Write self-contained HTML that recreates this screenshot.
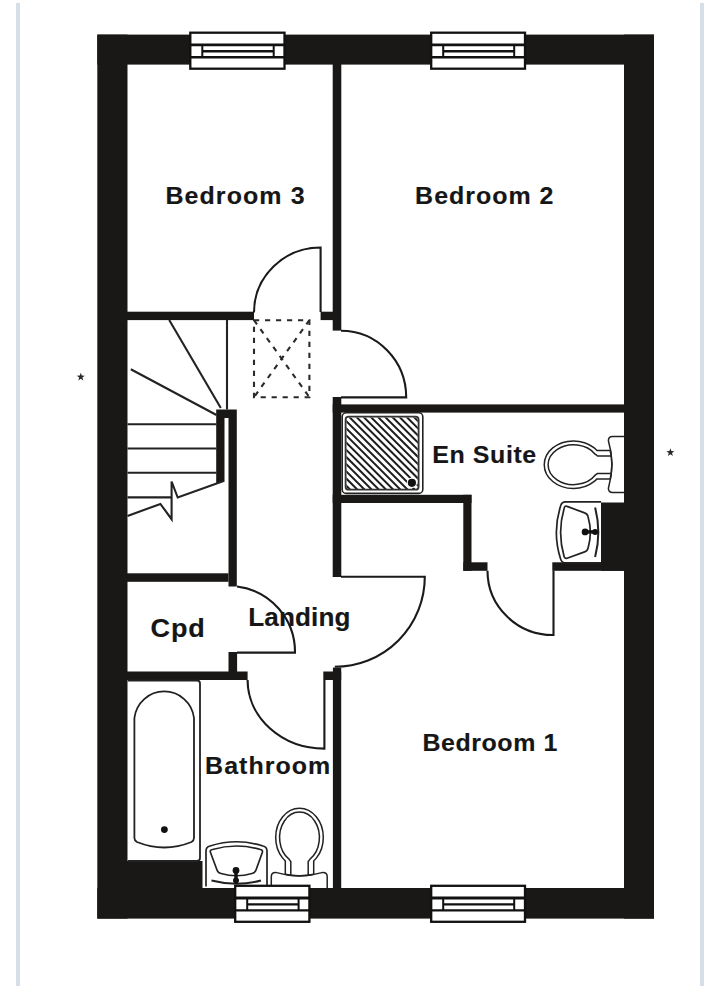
<!DOCTYPE html>
<html><head><meta charset="utf-8">
<style>
html,body{margin:0;padding:0;background:#fff;width:720px;height:986px;overflow:hidden}
svg{display:block}
text{font-family:"Liberation Sans",sans-serif;font-weight:bold;fill:#161616}
</style></head>
<body>
<svg width="720" height="986" viewBox="0 0 720 986">
<defs>
<clipPath id="trayclip"><rect x="346.4" y="417.5" width="71.4" height="71.4" rx="2.5"/></clipPath>
<g id="basin" fill="none" stroke="#222" stroke-width="1.7">
  <path d="M206 886.5 V851 Q206 847 210 846 Q236.5 837.5 263 846 Q267 847 267 851 V886.5"/>
  <path d="M210.5 852.5 Q209.5 850 212.5 849.5 Q236.5 842.5 260.5 849.5 Q263 850 262.3 852.5 L256 870 Q255 873 252 873.5 Q236.5 878 221 873.5 Q218 873 217 870 Z"/>
  <path d="M211.5 880.5 Q236.5 887 261 880.5" stroke-width="2"/>
  <circle cx="236" cy="870.5" r="3.4" fill="#111" stroke="none"/>
  <circle cx="236" cy="880.5" r="3" fill="#111" stroke="none"/>
  <rect x="234.3" y="870" width="3.4" height="11" fill="#111" stroke="none"/>
</g>
<g id="toilet" fill="none" stroke="#222" stroke-width="1.5">
  <path d="M271.3 888 V876.5 Q271.3 872.4 275.5 872.4 Q299 879.5 323 872.4 Q327.2 872.4 327.2 876.5 V888" fill="#fff"/>
  <path d="M285.3 875 V861 Q283.8 859.5 282.5 857.9 A23.8 29.2 0 1 1 316.5 857.9 Q315.2 859.5 313.7 861 V875"/>
  <path d="M290.8 875 V861.5 Q289.8 860.2 289 859.1 A19.9 25.4 0 1 1 310 859.1 Q309.2 860.2 308.2 861.5 V875"/>
  <path d="M285.3 874.2 Q299.5 877.5 313.7 874.2"/>
</g>

</defs>

<!-- page side rules -->
<rect x="16" y="3" width="4" height="983" fill="#d6dee8"/>
<rect x="700" y="3" width="4" height="983" fill="#d6dee8"/>

<!-- outer walls -->
<g fill="#1a1816">
  <rect x="97.3" y="34.6" width="556.7" height="30"/>
  <rect x="97.3" y="34.6" width="30.2" height="884"/>
  <rect x="624" y="34.6" width="30" height="884"/>
  <rect x="97.3" y="888" width="556.7" height="30.6"/>
  <!-- interior -->
  <rect x="332.7" y="64" width="8.6" height="266.6"/>
  <rect x="127" y="311.7" width="127" height="8.4"/>
  <rect x="320.6" y="311.7" width="13" height="8.4"/>
  <rect x="332.7" y="397" width="8.6" height="180"/>
  <rect x="332.7" y="404.4" width="291.5" height="8.2"/>
  <rect x="332.7" y="494.8" width="138.8" height="8.2"/>
  <rect x="463.3" y="494.8" width="8.2" height="76"/>
  <rect x="463.3" y="562.3" width="24.2" height="8.5"/>
  <rect x="552.3" y="562.3" width="72" height="8.5"/>
  <rect x="601" y="502.5" width="23.5" height="68.3"/>
  <!-- stair newel -->
  <path d="M216.2 409.5 H236.8 V586.5 H228.5 V418 H224.5 V480.7 L216.2 483.8 Z"/>
  <rect x="127" y="573.3" width="101.5" height="8.5"/>
  <rect x="228.5" y="652" width="8.6" height="20"/>
  <rect x="127" y="671.5" width="120.6" height="8.5"/>
  <rect x="323.3" y="671.5" width="17.9" height="8.5"/>
  <rect x="332.9" y="667.6" width="8.3" height="221"/>
  <rect x="127" y="861" width="75.5" height="27.5"/>
</g>

<!-- doors -->
<g fill="none" stroke="#1a1a1a" stroke-width="2.1">
  <!-- bedroom 3 -->
  <path d="M254 312.5 A66.6 65 0 0 1 320.6 247.5 V312"/>
  <!-- bedroom 2 -->
  <path d="M341 330.8 A65.2 66.6 0 0 1 406.2 397.4 H341"/>
  <!-- bedroom 1 -->
  <path d="M341 576.8 H424.8 A90 90 0 0 1 334.8 666.8"/>
  <!-- cpd -->
  <path d="M237 586.5 A66 66 0 0 1 295 652.6 H237"/>
  <!-- bathroom -->
  <path d="M247.6 680 A76.8 68.6 0 0 0 324.4 748.6 V680"/>
  <!-- en suite -->
  <path d="M487.5 570.8 A65.5 64.2 0 0 0 553.5 635 V570.8"/>
</g>

<!-- loft hatch -->
<g fill="none" stroke="#2a2a2a" stroke-width="2.1" stroke-dasharray="5.2 5.8">
  <rect x="254" y="320.2" width="55.4" height="77"/>
  <line x1="254" y1="320.2" x2="309.4" y2="397.2"/>
  <line x1="309.4" y1="320.2" x2="254" y2="397.2"/>
</g>

<!-- stairs -->
<g fill="none" stroke="#222" stroke-width="2.1">
  <line x1="169.2" y1="320" x2="220.8" y2="408"/>
  <line x1="130.8" y1="369.2" x2="216.5" y2="415"/>
  <line x1="227" y1="320" x2="227" y2="409.5"/>
  <line x1="127.5" y1="424.2" x2="216.5" y2="424.2"/>
  <line x1="127.5" y1="448.5" x2="216.5" y2="448.5"/>
  <line x1="127.5" y1="472.8" x2="216.5" y2="472.8"/>
  <line x1="127.5" y1="497.4" x2="171.6" y2="497.4"/>
  <path d="M127.5 516 L160.4 503.9 L171.6 519.2 V481.5 L177.7 497.5 L224.3 480.7"/>
</g>

<!-- shower tray -->
<g>
  <rect x="342.2" y="412.8" width="80.6" height="80.6" rx="4" fill="#fff" stroke="#222" stroke-width="1.6"/>
  <g clip-path="url(#trayclip)" stroke="#1e1e1e" stroke-width="2.0">
    <path d="M416.17 405L511.17 500M409.00 405L504.00 500M401.83 405L496.83 500M394.66 405L489.66 500M387.49 405L482.49 500M380.32 405L475.32 500M373.15 405L468.15 500M365.98 405L460.98 500M358.81 405L453.81 500M351.64 405L446.64 500M344.47 405L439.47 500M337.30 405L432.30 500M330.13 405L425.13 500M322.96 405L417.96 500M315.79 405L410.79 500M308.62 405L403.62 500M301.45 405L396.45 500M294.28 405L389.28 500M287.11 405L382.11 500M279.94 405L374.94 500M272.77 405L367.77 500M265.60 405L360.60 500M258.43 405L353.43 500"/>
  </g>
  <rect x="345.6" y="416.7" width="73" height="73" rx="3" fill="none" stroke="#333" stroke-width="1.8"/>
  <circle cx="411.9" cy="482.8" r="5.2" fill="#fff"/>
  <circle cx="411.9" cy="482.8" r="4.1" fill="#111"/>
</g>

<!-- bath -->
<g fill="none" stroke="#222" stroke-width="1.8">
  <path d="M127.8 680.5 H197 Q200 680.5 200 683.5 V858 Q200 861 197 861 H127.8"/>
  <path d="M134.4 838 V718 A30 30 0 0 1 194 718 V838 Q194 840.5 191.5 842 Q164.2 853 137 842 Q134.4 840.5 134.4 838 Z"/>
  <circle cx="164.4" cy="829.6" r="3.4" fill="#111" stroke="none"/>
</g>

<!-- bathroom fixtures -->
<use href="#basin"/>
<use href="#toilet"/>
<!-- en suite fixtures -->
<use href="#basin" transform="matrix(0 1 1 0 -285.4 295.9)"/>
<use href="#toilet" transform="matrix(0 1 1 0 -264 165.2)"/>

<!-- windows -->
<g stroke="#111" fill="none"><rect x="190.3" y="32.7" width="94.2" height="36" fill="#fff" stroke-width="2.3"/><path d="M190.3 44.900000000000006H284.5" stroke-width="2.8"/><path d="M190.3 57.300000000000004H284.5" stroke-width="2.4"/><path d="M202.3 44.900000000000006V57.300000000000004M273.7 44.900000000000006V57.300000000000004" stroke-width="2"/><path d="M202.3 51.300000000000004H273.7" stroke-width="2.4"/></g>
<g stroke="#111" fill="none"><rect x="431.2" y="32.7" width="93.8" height="36" fill="#fff" stroke-width="2.3"/><path d="M431.2 44.900000000000006H525" stroke-width="2.8"/><path d="M431.2 57.300000000000004H525" stroke-width="2.4"/><path d="M443.2 44.900000000000006V57.300000000000004M514.2 44.900000000000006V57.300000000000004" stroke-width="2"/><path d="M443.2 51.300000000000004H514.2" stroke-width="2.4"/></g>
<g stroke="#111" fill="none"><rect x="235.2" y="885.8" width="74.2" height="36" fill="#fff" stroke-width="2.3"/><path d="M235.2 898.0H309.4" stroke-width="2.8"/><path d="M235.2 910.4H309.4" stroke-width="2.4"/><path d="M247.2 898.0V910.4M298.59999999999997 898.0V910.4" stroke-width="2"/><path d="M247.2 904.4H298.59999999999997" stroke-width="2.4"/></g>
<g stroke="#111" fill="none"><rect x="431.2" y="885.8" width="93.8" height="36" fill="#fff" stroke-width="2.3"/><path d="M431.2 898.0H525" stroke-width="2.8"/><path d="M431.2 910.4H525" stroke-width="2.4"/><path d="M443.2 898.0V910.4M514.2 898.0V910.4" stroke-width="2"/><path d="M443.2 904.4H514.2" stroke-width="2.4"/></g>
<!-- asterisks -->
<polygon points="80.80,372.80 81.80,375.62 84.79,375.70 82.42,377.53 83.27,380.40 80.80,378.70 78.33,380.40 79.18,377.53 76.81,375.70 79.80,375.62" fill="#2a2a2a"/>
<polygon points="670.40,448.30 671.40,451.12 674.39,451.20 672.02,453.03 672.87,455.90 670.40,454.20 667.93,455.90 668.78,453.03 666.41,451.20 669.40,451.12" fill="#2a2a2a"/>
<!-- labels -->
<text transform="translate(165.4 203.9) scale(1.02 1)" font-size="24.5" letter-spacing="1.07" stroke="#161616" stroke-width="0.15">Bedroom 3</text>
<text transform="translate(415.1 204.2) scale(1.02 1)" font-size="24.5" letter-spacing="0.97" stroke="#161616" stroke-width="0.15">Bedroom 2</text>
<text transform="translate(422.4 751.0) scale(1.02 1)" font-size="24.5" letter-spacing="0.55" stroke="#161616" stroke-width="0.15">Bedroom 1</text>
<text transform="translate(432.3 463.4) scale(1.02 1)" font-size="24.5" letter-spacing="0.55" stroke="#161616" stroke-width="0.15">En Suite</text>
<text transform="translate(248.3 625.5) scale(1.02 1)" font-size="25.6" letter-spacing="0.10" stroke="#161616" stroke-width="0.15">Landing</text>
<text transform="translate(205.1 773.8) scale(1.02 1)" font-size="24.5" letter-spacing="1.00" stroke="#161616" stroke-width="0.15">Bathroom</text>
<text transform="translate(150.6 636.6) scale(1.04 1)" font-size="26" letter-spacing="0.75" stroke="#161616" stroke-width="0.15">Cpd</text>
</svg>
</body></html>
